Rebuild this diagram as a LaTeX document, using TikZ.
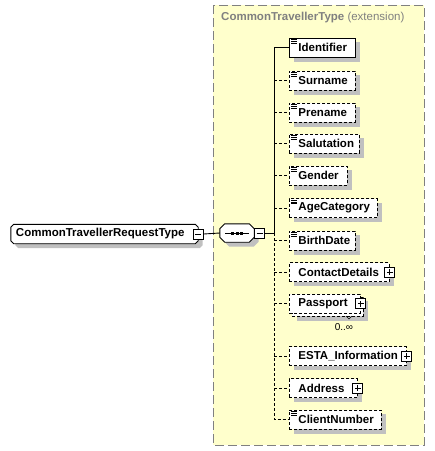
\documentclass[tikz,border=0pt]{standalone}
\usepackage{fontspec}
\setmainfont{Liberation Sans}
\definecolor{boxyellow}{RGB}{255,255,204}
\definecolor{framegray}{RGB}{128,128,128}
\definecolor{shadowgray}{RGB}{192,192,192}
\pgfdeclarelayer{bg}
\pgfdeclarelayer{shade}
\pgfsetlayers{bg,shade,main}
\newcommand{\chamfbox}[2]{% name, chamfer size
  \draw[fill=white, line width=0.9pt] ([xshift=#2]#1.north west) -- ([xshift=-#2]#1.north east) -- ([yshift=-#2]#1.north east)
    -- ([yshift=#2]#1.south east) -- ([xshift=-#2]#1.south east) -- ([xshift=#2]#1.south west)
    -- ([yshift=#2]#1.south west) -- ([yshift=-#2]#1.north west) -- cycle;
  \begin{pgfonlayer}{shade}
  \fill[shadowgray] ([shift={(4.5pt+#2,-4.5pt)}]#1.north west) -- ([shift={(4.5pt-#2,-4.5pt)}]#1.north east) -- ([shift={(4.5pt,-4.5pt-#2)}]#1.north east)
    -- ([shift={(4.5pt,-4.5pt+#2)}]#1.south east) -- ([shift={(4.5pt-#2,-4.5pt)}]#1.south east) -- ([shift={(4.5pt+#2,-4.5pt)}]#1.south west)
    -- ([shift={(4.5pt,-4.5pt+#2)}]#1.south west) -- ([shift={(4.5pt,-4.5pt-#2)}]#1.north west) -- cycle;
  \end{pgfonlayer}}
\newcommand{\shadebox}[1]{%
  \begin{pgfonlayer}{shade}
  \fill[shadowgray] ([shift={(4.5pt,-4.5pt)}]#1.north west) rectangle ([shift={(4.5pt,-4.5pt)}]#1.south east);
  \end{pgfonlayer}}
\begin{document}
\begin{tikzpicture}[x=1pt,y=-1pt,
  namefont/.style={font=\fontsize{11.5}{13}\selectfont\bfseries},
  elem/.style={draw, fill=white, anchor=west, minimum height=19pt, inner xsep=9pt, inner ysep=0pt, align=left, namefont, line width=0.9pt},
  opt/.style={dash pattern=on 3pt off 2pt},
  icon/.style={draw, fill=white, minimum size=10pt, inner sep=0pt, line width=0.9pt},
  expander/.style={icon, path picture={
     \draw[line width=0.9pt] ([xshift=-3pt]path picture bounding box.center) -- ([xshift=3pt]path picture bounding box.center)
       ([yshift=-3pt]path picture bounding box.center) -- ([yshift=3pt]path picture bounding box.center);}},
  collapser/.style={icon, path picture={
     \draw[line width=0.9pt] ([xshift=-3pt]path picture bounding box.center) -- ([xshift=3pt]path picture bounding box.center);}},
  conn/.style={line width=0.9pt}
]
\useasboundingbox (0,0) rectangle (435,451);

% extension frame
\begin{pgfonlayer}{bg}
\draw[framegray, fill=boxyellow, line width=0.9pt, dash pattern=on 9pt off 4pt] (213,5) rectangle (424,445);
\end{pgfonlayer}
\node[anchor=west, inner sep=0pt, text=framegray, font=\fontsize{11.5}{13}\selectfont] (title) at (221,18)
  {\bfseries CommonTravellerType\mdseries{} (extension)};

% left type node
\node[minimum width=187pt, minimum height=19pt, inner sep=0pt] (ctype) at (104.5,234) {};
\chamfbox{ctype}{3pt}
\node[anchor=west, inner sep=0pt, namefont] (ctypelabel) at ([xshift=5pt]ctype.west) {CommonTravellerRequestType};
\node[collapser] (ctminus) at (ctype.east) {};

% sequence compositor
\node[minimum width=34pt, minimum height=18pt, inner sep=0pt] (seq) at (237,233) {};
\chamfbox{seq}{5pt}
\draw[line width=0.9pt] ([xshift=-12pt]seq.center) -- ([xshift=12pt]seq.center);
\foreach \dx in {-4.5,0,4.5} \fill ([xshift=\dx pt]seq.center) ++(-1.5,-1.5) rectangle ++(3,3);
\node[collapser] (seqminus) at ([xshift=5.5pt]seq.east) {};

\coordinate (bus) at (274,233);

% elements
\node[elem, text width=48pt] (identifier) at (289,47.5) {Identifier};
\node[elem, opt, text width=48pt] (surname) at (289,80.5) {Surname};
\node[elem, opt, text width=48pt] (prename) at (289,112.5) {Prename};
\node[elem, opt, text width=52pt] (salutation) at (289,143.5) {Salutation};
\node[elem, opt, text width=40pt] (gender) at (289,175.5) {Gender};
\node[elem, opt, text width=70pt] (agecat) at (289,208) {AgeCategory};
\node[elem, opt, text width=48pt] (birthdate) at (289,240.5) {BirthDate};
\node[elem, opt, text width=82pt] (contact) at (289,272) {ContactDetails};
\node[elem, opt, text width=53pt] (passportback) at (292,306.5) {\phantom{Passport}};
\node[elem, opt, text width=53pt] (passport) at (289,303.5) {Passport};
\node[elem, opt, text width=99pt] (esta) at (289,356) {ESTA\_Information};
\node[elem, opt, text width=50pt] (address) at (289,388) {Address};
\node[elem, opt, text width=74pt] (client) at (289,419.5) {ClientNumber};
\foreach \n in {identifier,surname,prename,salutation,gender,agecat,birthdate,contact,passportback,esta,address,client}
  {\shadebox{\n}}

% expand icons
\node[expander] (contactplus) at (contact.east) {};
\node[expander] (passportplus) at (passport.east) {};
\node[expander] (estaplus) at (esta.east) {};
\node[expander] (addressplus) at (address.east) {};

% occurrence
\draw[line width=0.6pt] (346,316) -- (349,319) -- (352,316);
\node[inner sep=0pt, font=\fontsize{10}{12}\selectfont] (occ) at (344,327) {0..∞};

% simple type marks
\foreach \n in {identifier,surname,prename,salutation,gender,agecat,birthdate,client}
  \foreach \d in {2pt,3.8pt,5.6pt}
    \draw[line width=0.7pt] ([xshift=2pt,yshift=-\d]\n.north west) -- ++(6,0);

% connectors
\draw[conn] (ctminus.east) -- (seq.west);
\draw[conn] (seqminus.east) -- (bus);
\draw[conn] (bus) |- (identifier.west);
\draw[conn, opt] (bus) |- (client.west);
\foreach \n in {surname,prename,salutation,gender,agecat,birthdate,contact,passport,esta,address}
  \draw[conn, opt] (\n.west -| bus) -- (\n.west);
\end{tikzpicture}
\end{document}
